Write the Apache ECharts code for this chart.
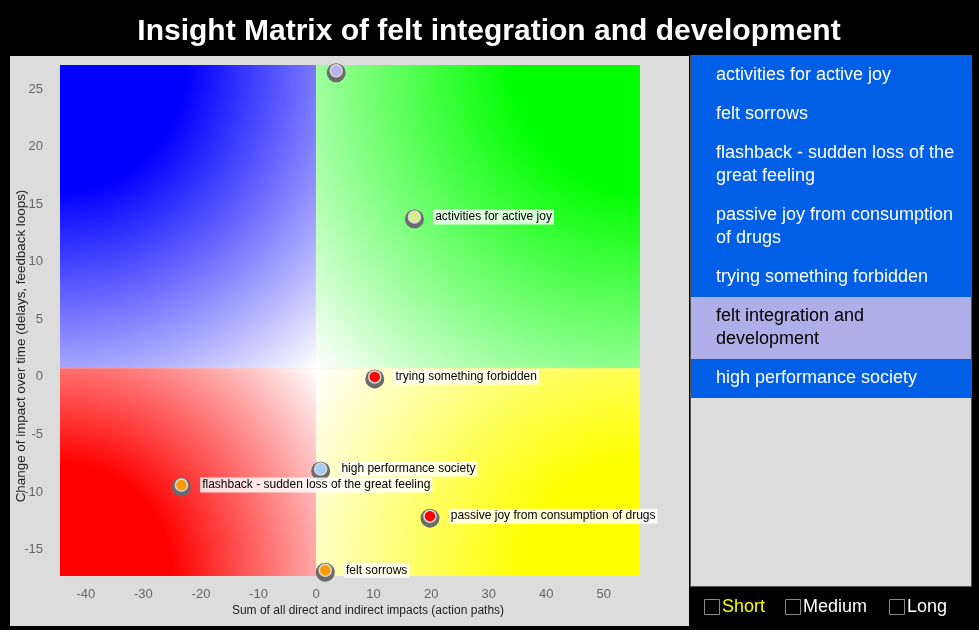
<!DOCTYPE html>
<html>
<head>
<meta charset="utf-8">
<script src="https://cdn.jsdelivr.net/npm/echarts@6/dist/echarts.min.js"></script>
<style>
html,body{margin:0;padding:0;background:#000;}
#chart{width:979px;height:630px;}
</style>
</head>
<body>
<div id="chart"></div>
<script>
// ---------- data ----------
const titleText = 'Insight Matrix of felt integration and development';
const xAxisName = 'Sum of all direct and indirect impacts (action paths)';
const yAxisName = 'Change of impact over time (delays, feedback loops)';
const xTicks = [-40, -30, -20, -10, 0, 10, 20, 30, 40, 50];
const yTicks = [-15, -10, -5, 0, 5, 10, 15, 20, 25];
const xRange = [-44.5, 56.3];
const yRange = [-17.3, 27.1];
const quadrantCenter = [0, 0.75];

const pointNames = ['felt integration and development', 'activities for active joy', 'trying something forbidden',
  'high performance society', 'flashback - sudden loss of the great feeling',
  'passive joy from consumption of drugs', 'felt sorrows'];
const pointX = [3.5, 17.1, 10.2, 0.8, -23.4, 19.8, 1.6];
const pointY = [26.6, 13.9, 0.0, -8.0, -9.4, -12.1, -16.8];
const pointColors = ['#b4b4f0', '#d4ee8c', '#ff0000', '#a9cdf0', '#ff9a00', '#ff0000', '#ff9a00'];
const selectedName = 'felt integration and development';

const listItems = ['activities for active joy', 'felt sorrows', 'flashback - sudden loss of the great feeling',
  'passive joy from consumption of drugs', 'trying something forbidden',
  'felt integration and development', 'high performance society'];
const checkLabels = ['Short', 'Medium', 'Long'];
const checkColors = ['#ffff00', '#ffffff', '#ffffff'];

// ---------- helpers ----------
const FONT = '"Liberation Sans", Arial, Helvetica, sans-serif';
const measureCtx = document.createElement('canvas').getContext('2d');
function wrapLines(text, font, maxW) {
  measureCtx.font = font;
  const words = text.split(' ');
  const lines = [];
  let cur = '';
  words.forEach(w => {
    const test = cur ? cur + ' ' + w : w;
    if (measureCtx.measureText(test).width > maxW && cur) { lines.push(cur); cur = w; }
    else cur = test;
  });
  if (cur) lines.push(cur);
  return lines;
}

// far corner of each quadrant: fx (0 = left, 1 = right), fy (0 = top, 1 = bottom)
const quadrants = [
  { x0: xRange[0], x1: quadrantCenter[0], y0: quadrantCenter[1], y1: yRange[1], color: '#0000ff', f: [0, 0], full: 0.32 },
  { x0: quadrantCenter[0], x1: xRange[1], y0: quadrantCenter[1], y1: yRange[1], color: '#00ff00', f: [1, 0], full: 0.28 },
  { x0: xRange[0], x1: quadrantCenter[0], y0: yRange[0], y1: quadrantCenter[1], color: '#ff0000', f: [0, 1], full: 0.34 },
  { x0: quadrantCenter[0], x1: xRange[1], y0: yRange[0], y1: quadrantCenter[1], color: '#ffff00', f: [1, 1], full: 0.3 }
];

const scatterData = pointNames.map((n, i) => ({
  name: n,
  value: [pointX[i], pointY[i]],
  itemStyle: { color: pointColors[i] },
  label: { show: n !== selectedName }
}));

const graphics = [];
graphics.push({ type: 'rect', z: -10, shape: { x: 10, y: 56, width: 679, height: 570 }, style: { fill: '#dcdcdc' } });
graphics.push({ type: 'rect', z: -10, shape: { x: 690.5, y: 55.5, width: 281, height: 531 }, style: { fill: '#dcdcdc', stroke: '#555', lineWidth: 1 } });
let yCur = 56;
const listFont = '18px ' + FONT;
listItems.forEach(item => {
  const lines = wrapLines(item, listFont, 248);
  const h = 16 + 23 * lines.length;
  const sel = item === selectedName;
  graphics.push({ type: 'rect', z: -5, shape: { x: 691, y: yCur, width: 280, height: h },
    style: { fill: sel ? '#aeaee8' : '#005fe6' } });
  graphics.push({ type: 'text', z: -4, x: 716, y: yCur + h / 2,
    style: { text: lines.join('\n'), fill: sel ? '#000' : '#fff', font: listFont, lineHeight: 23,
      align: 'left', verticalAlign: 'middle' } });
  yCur += h;
});
const boxX = [704, 785, 889];
checkLabels.forEach((t, i) => {
  graphics.push({ type: 'rect', shape: { x: boxX[i] + 0.5, y: 599.5, width: 15, height: 15 },
    style: { fill: '#000', stroke: '#8a8a8a', lineWidth: 1 } });
  graphics.push({ type: 'text', x: boxX[i] + 18, y: 607,
    style: { text: t, fill: checkColors[i], font: '18px ' + FONT, align: 'left', verticalAlign: 'middle' } });
});
graphics.push({ type: 'text', x: 489, y: 32,
  style: { text: titleText, fill: '#fff', font: 'bold 30px ' + FONT, align: 'center', verticalAlign: 'middle' } });
graphics.push({ type: 'text', x: 368, y: 611,
  style: { text: xAxisName, fill: '#222', font: '12px ' + FONT, align: 'center', verticalAlign: 'middle' } });
graphics.push({ type: 'text', x: 21, y: 346, rotation: Math.PI / 2,
  style: { text: yAxisName, fill: '#222', font: '13.4px ' + FONT, align: 'center', verticalAlign: 'middle' } });

const chart = echarts.init(document.getElementById('chart'), null, { renderer: 'canvas' });
chart.setOption({
  backgroundColor: '#000',
  animation: false,
  textStyle: { fontFamily: FONT },
  grid: { left: 60, right: 339, top: 65, bottom: 54, containLabel: false },
  xAxis: {
    type: 'value', min: xRange[0], max: xRange[1],
    axisLine: { show: false }, axisTick: { show: false }, splitLine: { show: false },
    axisLabel: { customValues: xTicks, color: '#666', fontSize: 13, margin: 12, fontFamily: FONT }
  },
  yAxis: {
    type: 'value', min: yRange[0], max: yRange[1],
    axisLine: { show: false }, axisTick: { show: false }, splitLine: { show: false },
    axisLabel: { customValues: yTicks, color: '#666', fontSize: 13, margin: 17, fontFamily: FONT }
  },
  graphic: graphics,
  series: [
    {
      type: 'custom', z: 1, silent: true,
      data: quadrants.map((q, i) => [q.x0, q.x1, q.y0, q.y1, i]),
      renderItem: function (params, api) {
        const q = quadrants[api.value(4)];
        const p1 = api.coord([api.value(0), api.value(3)]);
        const p2 = api.coord([api.value(1), api.value(2)]);
        const w = p2[0] - p1[0], h = p2[1] - p1[1];
        const cx = p1[0] + q.f[0] * w, cy = p1[1] + q.f[1] * h;
        const r = Math.sqrt(w * w + h * h);
        return {
          type: 'rect',
          shape: { x: p1[0], y: p1[1], width: w, height: h },
          style: {
            fill: new echarts.graphic.RadialGradient(cx, cy, r, [
              { offset: 0, color: q.color },
              { offset: q.full, color: q.color },
              { offset: 1, color: '#ffffff' }
            ], true)
          }
        };
      }
    },
    {
      type: 'scatter', z: 3, clip: false, silent: true,
      symbol: 'circle', symbolSize: 19, symbolOffset: [0, 2],
      itemStyle: { color: '#6b6b6b', opacity: 1 },
      data: pointNames.map((n, i) => [pointX[i], pointY[i]])
    },
    {
      type: 'scatter', z: 4, clip: false,
      symbol: 'circle', symbolSize: 12,
      itemStyle: { borderColor: '#dadada', borderWidth: 1.5, opacity: 1 },
      label: {
        position: 'right', distance: 12, formatter: '{b}',
        color: '#000', fontSize: 12, fontFamily: FONT, lineHeight: 14,
        backgroundColor: 'rgba(255,255,255,0.82)', padding: [1, 2, 0, 2]
      },
      labelLayout: { hideOverlap: false },
      data: scatterData
    }
  ]
});
</script>
</body>
</html>
